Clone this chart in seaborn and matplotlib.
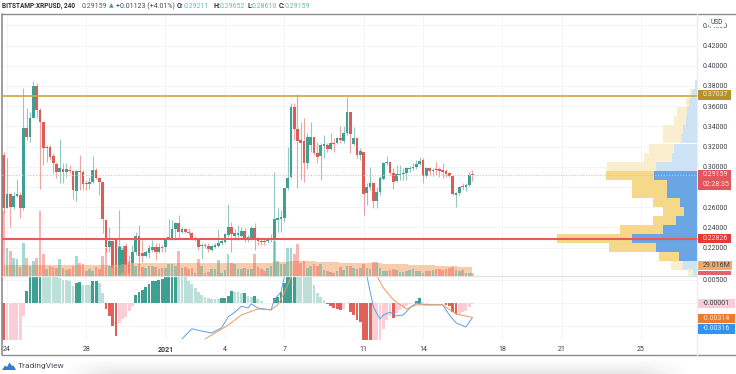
import numpy as np
import pandas as pd
import matplotlib
matplotlib.use("Agg")
import matplotlib.pyplot as plt
from matplotlib.patches import Rectangle, Polygon, FancyBboxPatch
import seaborn as sns

# candles, 4h bars
opens = [.3116,.2591,.2730,.2601,.2710,.2720,.2591,.3383,.3294,.3482,.3799,.3561,.3443,.3185,.3195,.3106,.3027,.2948,.2977,.2948,
         .2967,.2958,.2760,.2958,.2948,.2839,.2829,.2849,.2967,.2888,.2849,.2473,.2205,.2265,.2275,.1930,.1948,.2215,.2027,.2027,
         .2156,.2314,.2146,.2116,.2146,.2176,.2205,.2156,.2205,.2205,.2284,.2294,.2383,.2443,.2354,.2383,.2354,.2344,.2284,.2294,
         .2215,.2225,.2215,.2176,.2205,.2215,.2245,.2255,.2324,.2403,.2314,.2324,.2314,.2364,.2294,.2294,.2393,.2284,.2265,.2265,
         .2265,.2284,.2294,.2473,.2482,.2492,.2789,.2898,.3591,.3373,.3264,.3255,.3037,.3215,.3294,.3136,.3106,.3205,.3215,.3175,
         .3235,.3235,.3284,.3255,.3334,.3542,.3225,.3284,.3116,.3146,.2740,.2799,.2839,.2661,.2750,.2878,.3037,.3047,.2938,.2859,
         .2918,.2928,.2938,.2977,.2987,.2997,.3027,.3067,.2908,.2987,.2958,.2977,.2977,.2967,.2958,.2938,.2908,.2720,.2740,.2809,
         .2799,.2819,.29211]
highs = [.3146,.3086,.2740,.2750,.2878,.2750,.3779,.3581,.3542,.3849,.3829,.3581,.3443,.3215,.3215,.3136,.3047,.3274,.3037,.3037,
         .3017,.2967,.2967,.3116,.2967,.2868,.2898,.3106,.2987,.2898,.2849,.2473,.2403,.2265,.2275,.2571,.2225,.2245,.2126,.2225,
         .2354,.2423,.2275,.2176,.2225,.2275,.2245,.2245,.2225,.2294,.2483,.2473,.2453,.2522,.2403,.2393,.2393,.2354,.2314,.2294,
         .2245,.2245,.2245,.2225,.2245,.2383,.2275,.2344,.2631,.2453,.2383,.2423,.2403,.2393,.2324,.2413,.2443,.2304,.2294,.2294,
         .2304,.2334,.2948,.2591,.2571,.2789,.3195,.3631,.3631,.3720,.3443,.3482,.3334,.3443,.3294,.3245,.3235,.3314,.3235,.3334,
         .3284,.3294,.3403,.3403,.3690,.3542,.3393,.3284,.3185,.3146,.2839,.2997,.2839,.2799,.2908,.3047,.3106,.3047,.2987,.3017,
         .3017,.2987,.2997,.3007,.3037,.3067,.3096,.3086,.2997,.2997,.2987,.3047,.2997,.3037,.2977,.2948,.2918,.2750,.2809,.2839,
         .2839,.2948,.29652]
lows = [.2552,.2591,.2403,.2581,.2700,.2492,.2571,.3264,.3245,.3482,.3482,.2779,.3017,.3047,.3067,.2938,.2888,.2839,.2839,.2898,
        .2938,.2680,.2661,.2769,.2769,.2769,.2779,.2839,.2878,.2720,.2344,.2156,.2156,.1928,.1925,.1925,.1925,.1930,.1928,.1958,
        .2126,.1978,.2057,.2106,.2096,.2156,.2076,.2146,.2156,.2156,.2275,.2275,.2275,.2294,.2344,.2344,.2324,.2275,.2265,.2176,
        .2086,.2195,.2156,.2166,.2195,.2205,.2225,.2245,.2304,.2156,.2275,.2275,.2304,.2255,.2255,.2275,.2176,.2225,.2225,.2225,
        .2245,.2255,.1930,.2354,.2354,.2453,.2769,.2888,.3264,.2789,.2868,.2849,.2977,.3146,.3116,.3037,.2868,.3086,.3146,.3166,
        .3146,.3225,.3235,.3235,.3314,.3136,.3215,.3086,.3067,.2522,.2621,.2769,.2591,.2591,.2720,.2868,.3017,.2918,.2779,.2849,
        .2868,.2868,.2868,.2948,.2967,.2977,.3017,.2839,.2898,.2918,.2908,.2918,.2898,.2888,.2898,.2898,.2720,.2601,.2720,.2769,
        .2760,.2809,.28610]
closes = [.2591,.2730,.2601,.2710,.2730,.2591,.3383,.3294,.3482,.3799,.3561,.3443,.3185,.3195,.3096,.3037,.2948,.2987,.2948,.2977,
          .2958,.2769,.2958,.2948,.2829,.2829,.2849,.2967,.2888,.2849,.2482,.2205,.2265,.1997,.1930,.2205,.2176,.2027,.1948,.2156,
          .2314,.2116,.2116,.2156,.2195,.2205,.2156,.2205,.2195,.2275,.2304,.2383,.2443,.2354,.2383,.2354,.2344,.2284,.2294,.2205,
          .2225,.2215,.2186,.2215,.2225,.2245,.2265,.2334,.2403,.2334,.2344,.2344,.2364,.2284,.2304,.2393,.2275,.2265,.2255,.2255,
          .2284,.2294,.2482,.2492,.2502,.2789,.2888,.3591,.3373,.3255,.3235,.3037,.3294,.3294,.3136,.3096,.3215,.3225,.3175,.3235,
          .3225,.3284,.3264,.3334,.3542,.3324,.3284,.3116,.3156,.2730,.2799,.2839,.2661,.2750,.2888,.3037,.3047,.2938,.2849,.2928,
          .2928,.2938,.2987,.2987,.2997,.3027,.3057,.2908,.2987,.2958,.2967,.2967,.2958,.2948,.2928,.2908,.2730,.2740,.2799,.2799,
          .2819,.2921,.29159]

# volume in millions and its moving average
volume = [208,90,80,58,54,29,106,58,32,48,58,208,70,22,32,29,26,54,26,19,
          22,32,64,42,38,16,22,16,29,22,64,90,32,58,29,96,90,48,48,35,
          32,38,29,26,32,32,29,22,26,26,38,38,32,80,26,29,22,26,10,54,
          32,10,13,22,22,51,10,19,70,42,38,22,22,26,22,22,70,29,22,16,
          26,32,112,48,38,38,90,90,70,102,42,48,26,32,38,32,38,19,16,13,
          10,16,29,19,32,32,26,22,26,38,26,22,45,45,26,16,16,19,22,19,
          13,13,16,19,22,16,16,10,16,16,19,22,22,19,22,26,29,19,16,19,
          10,10,10]
volume_ma = [35,35,34,34,34,35,35,35,35,34,34,36,36,36,35,35,35,35,35,34,
             34,34,34,34,34,34,34,34,34,34,35,35,35,35,35,36,37,38,40,41,
             42,42,42,42,42,42,42,42,42,41,41,41,42,42,42,42,42,41,41,41,
             41,41,41,41,41,41,41,41,42,42,42,42,42,42,42,42,43,43,43,43,
             43,43,44,44,44,45,46,47,48,48,48,48,48,47,47,46,46,45,45,44,
             44,44,43,43,42,42,42,41,41,41,40,40,40,40,40,39,39,38,38,38,
             37,37,37,36,36,36,35,35,34,34,34,33,33,33,32,32,31,31,30,30,
             30,29,29.016]

# macd histogram, units of 1e-4, and its colour runs
macd_hist = [-85,-85,-85,-85,-85,-85,-28,26,65,65,65,65,65,65,65,65,65,54,50,50,
             48,37,43,46,39,39,39,48,48,43,22,-13,-28,-50,-72,-43,-35,-30,-17,-7,
             17,24,28,35,41,48,48,50,52,59,59,65,65,65,65,56,48,41,33,24,
             17,13,11,9,9,9,11,11,15,26,24,24,22,22,15,13,15,9,4,1,
             -1,-1,11,13,24,43,65,65,65,65,65,65,65,65,39,22,13,7,-2,-7,
             -11,-13,-15,-13,-1,-20,-26,-37,-41,-85,-85,-85,-85,-85,-85,-56,-37,-28,-33,-22,
             -15,-11,-7,-2,-1,4,11,2,-2,-1,-1,-1,-1,-1,-4,-7,-20,-24,-24,-20,
             -17,-9,-2]
hist_runs = [("R",1),("P",6),("G",5),("L",10),("G",2),("L",3),("G",2),("L",2),("R",4),("P",5),("G",13),("L",13),
             ("G",4),("L",3),("G",1),("L",2),("G",1),("L",3),("P",2),("G",7),("L",9),("R",5),("P",2),("R",7),("P",6),
             ("R",1),("P",6),("G",2),("L",1),("P",6),("R",4),("P",5)]

# macd lines, off the pane top between the runs
macd_x = [54,57,60,63,66,68,70,72,74,75,77,81,82,84,85,88,105,110,112,114,115,117,119,121,123,125,128,133,135,137,140,142]
macd_y = [-.0078,-.0056,-.0061,-.0065,-.0054,-.0030,-.0020,-.0007,-.0011,-.0002,-.0011,-.0015,.0007,.0024,.0056,.0120,.0120,
          .0059,-.0009,-.0035,-.0026,-.0020,-.0028,-.0026,-.0011,0,-.0004,-.0004,-.0026,-.0043,-.0052,-.00316]
signal_x = [61,68,72,77,81,83,85,87,92,105,113,115,118,122,125,133,137,142]
signal_y = [-.0078,-.0048,-.0026,-.0013,-.0015,-.0004,.0022,.0056,.0120,.0120,.0059,.0033,.0007,-.0013,-.0004,-.0004,-.0024,-.00314]

# volume profile
profile_price = [.3814,.3725,.3636,.3547,.3458,.3368,.3279,.3180,.3091,.3002,.2913,.2824,.2735,.2646,.2557,.2468,.2379,.2289,.2200,.2111,.2022,.1943]
profile_up = [2,5,8,10,11,14,16,23,25,41,43,30,30,17,13,21,34,65,41,18,14,4]
profile_down = [0,2,3,10,12,20,18,25,28,49,48,35,35,27,21,23,43,75,47,20,12,5]
profile_strong = [False]*10 + [True]*9 + [True,False,False]

price_ticks = [.22,.24,.26,.28,.30,.32,.34,.36,.38,.40,.42,.44]
date_pos = [1,25,49,67,85,109,127,151,169,193]
date_labels = ["24","28","2021","4","7","11","14","18","21","25"]

GREEN, RED = "#3f9f92", "#dd5c55"
INK = "#3a3f4a"
LABEL_SIZE = 5.0

sns.set_style("white")
plt.rcParams["font.family"] = ["Roboto", "DejaVu Sans"]

W, H = 736, 374
fig = plt.figure(figsize=(W / 100, H / 100), dpi=100, facecolor="white")

def pane(x0, y0, x1, y1, z):
    a = fig.add_axes([x0 / W, 1 - y1 / H, (x1 - x0) / W, (y1 - y0) / H], zorder=z)
    a.patch.set_alpha(0)
    for s in a.spines.values():
        s.set_visible(False)
    return a

def frame_line(x0, y0, x1, y1, color, lw=1.0):
    fig.add_artist(plt.Line2D([x0 / W, x1 / W], [1 - y0 / H, 1 - y1 / H], color=color, lw=lw))

def tag(y0, y1, text, fc, tc, x1=731):
    fig.add_artist(Rectangle((698 / W, 1 - y1 / H), (x1 - 698) / W, (y1 - y0) / H, fc=fc, ec="none", zorder=20,
                             transform=fig.transFigure))
    fig.text(703 / W, 1 - (y0 + y1) / 2 / H, text, color=tc, fontsize=LABEL_SIZE, va="center", ha="left", zorder=21)

xlim = (-0.5, 210.0)
idx = np.arange(len(closes))

# 1. price pane
ax = pane(2, 14, 697, 276, 1)
ax.set_xlim(*xlim)
ax.set_ylim(.1918, .4512)
ax.set_yticks(price_ticks)
ax.set_yticklabels(["" if p == .28 else f"{p:.5f}" for p in price_ticks], fontsize=LABEL_SIZE, color=INK)
ax.yaxis.tick_right()
ax.tick_params(axis="y", length=0, pad=4)
ax.set_xticks(date_pos)
ax.set_xticklabels([])
ax.tick_params(axis="x", length=0)
ax.grid(True, color="#f2f4f8", lw=0.7)
ax.set_axisbelow(True)

df = pd.DataFrame({"i": idx, "open": opens, "high": highs, "low": lows, "close": closes})
df["color"] = np.where(df["close"] >= df["open"], GREEN, RED)
ax.vlines(df["i"], df["low"], df["high"], colors=df["color"], lw=0.8, alpha=0.55)
body_lo = df[["open", "close"]].min(axis=1)
body_h = (df["open"] - df["close"]).abs().clip(lower=.0012)
ax.bar(df["i"], body_h, bottom=body_lo, width=0.82, color=df["color"], lw=0)

# 2. volume overlay
ax_vol = pane(2, 14, 697, 276, 2)
ax_vol.fill_between(idx, 0, volume_ma, color="#f6b98c", alpha=0.7, lw=0, step="mid")
vol_df = pd.DataFrame({"i": idx, "v": volume, "d": np.where(df["close"] >= df["open"], "up", "down")})
sns.barplot(data=vol_df, x="i", y="v", hue="d", palette={"up": "#26a69a", "down": "#ef5350"}, native_scale=True,
            dodge=False, legend=False, alpha=0.42, saturation=1, width=0.8, linewidth=0, ax=ax_vol)
ax_vol.set_xlim(*xlim)
ax_vol.set_ylim(0, 262 * 3.2)
ax_vol.axis("off")

# 3. volume profile and the two levels
ax_prof = pane(2, 14, 697, 276, 3)
ax_prof.set_ylim(.1918, .4512)
ax_prof.set_xlim(695, 0)
up = np.array(profile_up)
down = np.array(profile_down)
strong = np.array(profile_strong)
ax_prof.barh(profile_price, up, height=.0084, lw=0, color=np.where(strong, "#6aa6e3", "#cfe3f6"))
ax_prof.barh(profile_price, down, left=up, height=.0084, lw=0, color=np.where(strong, "#f6d88a", "#fbeecf"))
ax_prof.axhline(.37037, color="#cfa63c", lw=1.2)
ax_prof.axhline(.22826, color="#ea5a55", lw=1.5)
ax_prof.axhline(.29159, color="#f5b5b5", lw=0.8, ls=(0, (1, 1.5)))
ax_prof.axis("off")

# 4. macd pane
ax_m = pane(2, 276, 697, 340, 1)
tones = [t for t, n in hist_runs for _ in range(n)]
hist_df = pd.DataFrame({"i": idx, "v": np.array(macd_hist) * 1e-4, "t": tones})
sns.barplot(data=hist_df, x="i", y="v", hue="t", native_scale=True, dodge=False, legend=False, saturation=1, width=0.85,
            linewidth=0, palette={"G": "#3f9f92", "L": "#bcdfda", "R": "#e0605a", "P": "#fbcdd6"}, ax=ax_m)
sns.lineplot(x=macd_x, y=macd_y, sort=False, estimator=None, color="#5c9fe6", lw=0.7, ax=ax_m)
sns.lineplot(x=signal_x, y=signal_y, sort=False, estimator=None, color="#ef9a5a", lw=0.7, ax=ax_m)
ax_m.set_xlim(*xlim)
ax_m.set_ylim(-.00803, .00586)
ax_m.set_ylabel("")
ax_m.set_xlabel("")
ax_m.set_yticks([.005, 0, -.005])
ax_m.set_yticklabels(["0.00500", "", ""], fontsize=LABEL_SIZE, color=INK)
ax_m.yaxis.tick_right()
ax_m.tick_params(axis="y", length=0, pad=4)
ax_m.set_xticks(date_pos)
ax_m.set_xticklabels(date_labels, fontsize=LABEL_SIZE, color=INK)
ax_m.tick_params(axis="x", length=0, pad=4)
ax_m.get_xticklabels()[2].set_fontweight("bold")
ax_m.grid(True, color="#f2f4f8", lw=0.7)
ax_m.set_axisbelow(True)

# frame
frame_line(2, 14, 736, 14, "#8d8d8d")
frame_line(2, 14, 2, 355, "#8d8d8d", 1.2)
frame_line(2, 355, 736, 355, "#8d8d8d")
frame_line(2, 276, 697, 276, "#e2e4ea")
frame_line(697, 14, 697, 355, "#eceef2")

# price and indicator tags
tag(90, 100, "0.37037", "#b8912f", "#f4ead0")
tag(170, 180, "0.29159", "#e0565a", "#fbe4e4")
tag(180, 190, "02:28:35", "#e0565a", "#fbe4e4")
tag(234, 243, "0.22826", "#e83a35", "#fbdcdc")
tag(261, 270, "29.016M", "#f2ab6e", INK, x1=732)
tag(271, 275, "", "#e0656a", "white")
tag(299, 308, "-0.00001", "#f8cdd8", INK, x1=735)
tag(314, 323, "-0.00314", "#ee7a2c", "#fde6d4", x1=735)
tag(324, 334, "-0.00316", "#2f93f0", "#e2f0fd", x1=735)
fig.add_artist(FancyBboxPatch((709 / W, 1 - 27 / H), 16 / W, 8 / H, boxstyle="round,pad=0,rounding_size=0.003",
                              fc="white", ec="#dfe1e6", lw=0.5, zorder=20, transform=fig.transFigure))
fig.text(717 / W, 1 - 23 / H, "USD", fontsize=4.8, color=INK, ha="center", va="center", zorder=21)

# header
hdr_y = 1 - 6 / H
TEAL = "#6fb9ae"
for x, s, c, w, fs in [(2, "BITSTAMP:XRPUSD, 240", "#2b2f38", "bold", 4.7), (82, "0.29159", "#555a66", "normal", 5.0),
                       (109, "▲", "#3f9f92", "normal", 4.4), (116, "+0.01123 (+4.01%)", "#444955", "normal", 5.0),
                       (177, "O:", "#2b2f38", "bold", 5.0), (184, "0.29211", TEAL, "normal", 5.0),
                       (214, "H:", "#2b2f38", "bold", 5.0), (220, "0.29652", TEAL, "normal", 5.0),
                       (247, "L:", "#2b2f38", "bold", 5.0), (252, "0.28610", TEAL, "normal", 5.0),
                       (279, "C:", "#2b2f38", "bold", 5.0), (285, "0.29159", TEAL, "normal", 5.0)]:
    fig.text(x / W, hdr_y, s, color=c, fontweight=w, fontsize=fs, va="center", ha="left")

# footer shadow and logo
ax_f = fig.add_axes([0, 0, 1, 16 / H], zorder=0)
fade_x = np.clip((np.arange(W) - 60) / 50, 0, 1) * np.clip((690 - np.arange(W)) / 50, 0, 1)
fade_y = np.linspace(0, 1, 16)[:, None]
ax_f.imshow(1 - 0.09 * fade_y * fade_x[None, :], cmap="gray", vmin=0, vmax=1, aspect="auto", origin="upper")
ax_f.axis("off")
cloud = [(2, 370), (5, 365.5), (7, 367), (9.5, 362.5), (12, 366), (13.5, 365.5), (16, 370)]
fig.add_artist(Polygon([(x / W, 1 - y / H) for x, y in cloud], closed=True, fc="#2f7fd6", ec="none", zorder=5,
                       transform=fig.transFigure))
fig.text(17.5 / W, 1 - 366 / H, "TradingView", fontsize=6.0, color="#4a4f5a", va="center", ha="left", zorder=5)

fig.savefig("out.png", dpi=100)
